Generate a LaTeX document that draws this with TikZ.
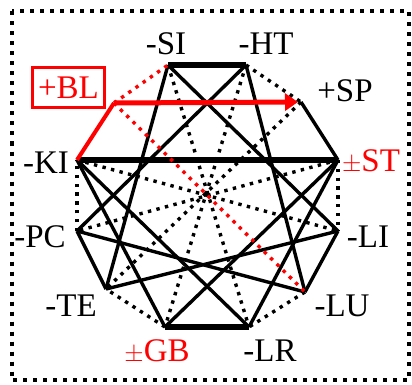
\documentclass[tikz,border=0pt]{standalone}
\usepackage{fontspec}
\setmainfont{Liberation Serif}
\usetikzlibrary{arrows.meta}
\begin{document}
\begin{tikzpicture}[x=1pt,y=-1pt,
  ln/.style={line width=3.4pt},
  thk/.style={line width=6pt},
  dotl/.style={line width=3.4pt, dash pattern=on 3.4pt off 5.4pt},
  lbl/.style={font=\fontsize{33}{36}\selectfont, inner sep=0pt},
  redl/.style={red, line width=4pt},
  reddot/.style={red, line width=3.4pt, dash pattern=on 3.4pt off 5.4pt}]
\useasboundingbox (0,0) rectangle (412,385);
\draw[line width=4pt, dash pattern=on 4pt off 6pt] (11.5,11.5) rectangle (409,380);
% vertices
\coordinate (SI) at (168,65);
\coordinate (HT) at (246,65);
\coordinate (SP) at (301,102);
\coordinate (ST) at (338,160);
\coordinate (LI) at (338,231);
\coordinate (LU) at (305,292);
\coordinate (LR) at (249,327);
\coordinate (GB) at (165,327);
\coordinate (TE) at (106,289);
\coordinate (PC) at (77,231);
\coordinate (KI) at (77,160);
\coordinate (BL) at (114,103);
% dotted edges
\draw[dotl] (HT) -- (SP);
\draw[dotl] (ST) -- (LI);
\draw[dotl] (LU) -- (LR);
\draw[dotl] (GB) -- (TE);
\draw[dotl] (PC) -- (KI);
\draw[dotl] (SI) -- (LR);
\draw[dotl] (HT) -- (GB);
\draw[dotl] (SP) -- (TE);
\draw[dotl] (ST) -- (PC);
\draw[dotl] (KI) -- (LI);
% solid edges
\draw[ln] (SP) -- (ST);
\draw[ln] (LI) -- (LU);
\draw[ln] (TE) -- (PC);
\draw[ln] (SI) -- (TE);
\draw[ln] (SI) -- (LI);
\draw[ln] (TE) -- (LI);
\draw[ln] (HT) -- (PC);
\draw[ln] (HT) -- (LU);
\draw[ln] (PC) -- (LU);
\draw[ln] (KI) -- (LR);
\draw[ln] (ST) -- (GB);
\draw[ln] (KI) -- (GB);
\draw[ln] (LR) -- (ST);
\draw[thk] (SI) -- (HT);
\draw[thk] (KI) -- (ST);
\draw[thk] (GB) -- (LR);
% red
\draw[reddot] (BL) -- (SI);
\draw[reddot] (BL) -- (LU);
\draw[redl] (KI) -- (BL);
\draw[red, line width=5pt, -{Triangle[length=13pt,width=17pt]}, shorten >=3pt] (BL) -- (SP);
% labels
\node[lbl] (lSI) at (166,44) {-SI};
\node[lbl] (lHT) at (266,44) {-HT};
\node[lbl] (lSP) at (345,91) {+SP};
\node[lbl, text=red] (lST) at (371,162) {$\pm$ST};
\node[lbl] (lLI) at (368,237) {-LI};
\node[lbl] (lLU) at (342,306) {-LU};
\node[lbl] (lLR) at (270,351) {-LR};
\node[lbl, text=red] (lGB) at (157,352) {$\pm$GB};
\node[lbl] (lTE) at (71,306) {-TE};
\node[lbl] (lPC) at (40,237) {-PC};
\node[lbl] (lKI) at (46,163) {-KI};
\node[lbl, text=red, draw=red, line width=3pt, minimum width=72pt, minimum height=40pt] (lBL) at (68.5,88) {+BL};
\end{tikzpicture}
\end{document}
